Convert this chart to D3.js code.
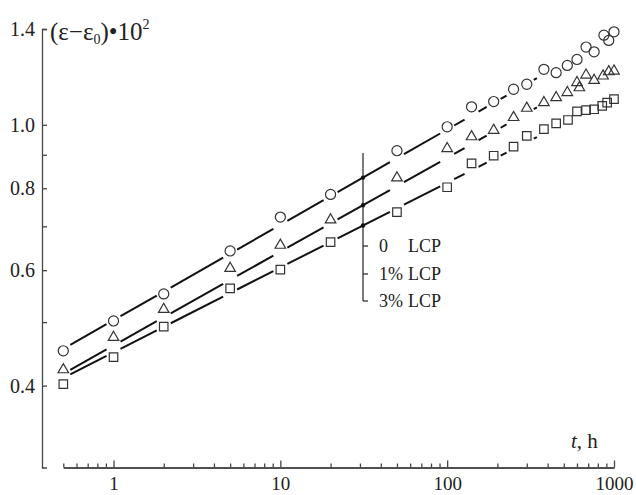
<!DOCTYPE html>
<html lang="en">
<head>
<meta charset="UTF-8">
<title>Creep strain vs time</title>
<script src="https://cdn.jsdelivr.net/npm/d3@7"></script>
<style>
  body { margin: 0; background: #fff; }
  text { font-family: "Liberation Serif", "Times New Roman", serif; fill: #222; }
</style>
</head>
<body>
<script>
// time, h
var hours0 = [0.5, 1, 2, 5, 10, 20, 50, 100, 140, 190, 250, 300, 380, 450, 525, 600, 680, 760, 870, 930, 1000];
var hours1 = [0.5, 1, 2, 5, 10, 20, 50, 100, 140, 190, 250, 300, 380, 450, 525, 600, 620, 680, 760, 860, 930, 1000];
var hours3 = [0.5, 1, 2, 5, 10, 20, 50, 100, 140, 190, 250, 300, 380, 450, 530, 600, 680, 760, 850, 910, 1000];
// (eps - eps0) * 10^2
var strain0 = [0.452, 0.502, 0.552, 0.642, 0.723, 0.783, 0.913, 0.993, 1.065, 1.085, 1.133, 1.153, 1.215, 1.201, 1.232, 1.258, 1.314, 1.292, 1.370, 1.345, 1.386];
var strain1 = [0.423, 0.474, 0.523, 0.604, 0.655, 0.716, 0.830, 0.920, 0.959, 0.981, 1.026, 1.060, 1.081, 1.100, 1.120, 1.160, 1.139, 1.191, 1.169, 1.187, 1.205, 1.208];
var strain3 = [0.402, 0.442, 0.492, 0.563, 0.601, 0.662, 0.736, 0.803, 0.873, 0.897, 0.926, 0.962, 0.985, 1.005, 1.017, 1.048, 1.053, 1.056, 1.069, 1.081, 1.094];
// fitted power-law lines, values at fitHours ends
var fitHours = [0.5, 1000];
var fit0 = [0.455, 1.375];
var fit1 = [0.417, 1.238];
var fit3 = [0.411, 1.099];

var legendNames = ["0", "1%", "3%"];
var xTickLabels = [1, 10, 100, 1000];
var yTickLabels = [0.4, 0.6, 0.8, 1.0, 1.4];
var yTicksMinor = [0.5, 0.7, 0.9];

var W = 636, H = 495;
var svg = d3.select("body").append("svg").attr("width", W).attr("height", H);

var x = d3.scaleLog().domain([0.5, 1000]).range([63.3, 614]);
var y = d3.scaleLog().domain([0.3, 1.4]).range([467.5, 29]);
var x0 = 42, yBase = 467.5;

// y axis, ticks pointing inside
var yAxis = svg.append("g").attr("transform", "translate(" + x0 + ",0)")
  .call(d3.axisLeft(y).tickValues(yTickLabels.concat(yTicksMinor))
    .tickSizeInner(-5).tickSizeOuter(-5).tickPadding(7)
    .tickFormat(function(d) { return yTickLabels.indexOf(d) >= 0 ? d3.format(".1f")(d) : ""; }));
yAxis.selectAll("text").style("font-size", "20px").attr("font-family", null);

// x axis: minor ticks then major ticks with labels
var minor = [];
[0.1, 1, 10, 100].forEach(function(dec) {
  for (var k = 2; k <= 9; k++) { var v = +(k * dec).toPrecision(3); if (v >= 0.5 && v <= 1000) minor.push(v); }
});
minor = minor.filter(function(v) { return xTickLabels.indexOf(v) < 0; });
svg.append("g").attr("transform", "translate(0," + yBase + ")")
  .call(d3.axisBottom(x).tickValues(minor).tickSizeInner(-4).tickSizeOuter(0).tickFormat(""));
var xAxis = svg.append("g").attr("transform", "translate(0," + yBase + ")")
  .call(d3.axisBottom(x).tickValues(xTickLabels).tickSizeInner(-7).tickSizeOuter(0)
    .tickFormat(d3.format("d")));
xAxis.selectAll("text").style("font-size", "19px").attr("y", 22.5).attr("dy", null);
svg.selectAll(".domain, .tick line").attr("stroke", "#444").attr("stroke-width", 1.3);

// axis titles
var yt = svg.append("text").attr("x", 50).attr("y", 40).style("font-size", "25px");
yt.append("tspan").text("(ε−ε");
yt.append("tspan").text("0").style("font-size", "14px").attr("dy", 4);
yt.append("tspan").text(")•10").attr("dy", -4);
yt.append("tspan").text("2").style("font-size", "14px").attr("dy", -11);

var xt = svg.append("text").attr("x", 571).attr("y", 448).style("font-size", "21px");
xt.append("tspan").text("t").style("font-style", "italic");
xt.append("tspan").text(", h");

// series
var series = [
  { t: hours0, v: strain0, fit: fit0, sym: d3.symbolCircle, size: 80 },
  { t: hours1, v: strain1, fit: fit1, sym: d3.symbolTriangle, size: 48 },
  { t: hours3, v: strain3, fit: fit3, sym: d3.symbolSquare, size: 72 }
];

function fitAt(fit, t) {
  var a = Math.log(fitHours[0]), b = Math.log(fitHours[1]);
  var f = (Math.log(t) - a) / (b - a);
  return Math.exp(Math.log(fit[0]) + f * (Math.log(fit[1]) - Math.log(fit[0])));
}

var gap = 7;
series.forEach(function(s) {
  // fitted line, broken around each marker
  var segs = [];
  for (var i = 0; i < s.t.length - 1; i++) {
    var a = x(s.t[i]) + gap, b = x(s.t[i + 1]) - gap;
    if (b - a > 0.5) segs.push([x.invert(a), x.invert(b)]);
  }
  svg.append("g").selectAll("line").data(segs).enter().append("line")
    .attr("x1", function(d) { return x(d[0]); })
    .attr("y1", function(d) { return y(fitAt(s.fit, d[0])); })
    .attr("x2", function(d) { return x(d[1]); })
    .attr("y2", function(d) { return y(fitAt(s.fit, d[1])); })
    .attr("stroke", "#111").attr("stroke-width", 2);

  svg.append("g").selectAll("path").data(d3.zip(s.t, s.v)).enter().append("path")
    .attr("d", d3.symbol().type(s.sym).size(s.size))
    .attr("transform", function(d) { return "translate(" + x(d[0]) + "," + y(d[1]) + ")"; })
    .attr("fill", "none").attr("stroke", "#333").attr("stroke-width", 1.2);
});

// legend pointer
var lx = 363, ly = [246, 274, 301];
svg.append("line").attr("x1", lx).attr("x2", lx).attr("y1", 153).attr("y2", ly[2])
  .attr("stroke", "#333").attr("stroke-width", 1.3);
svg.selectAll(".ltick").data(ly).enter().append("line")
  .attr("x1", lx).attr("x2", lx + 5).attr("y1", function(d) { return d; }).attr("y2", function(d) { return d; })
  .attr("stroke", "#333").attr("stroke-width", 1.3);
var tl = x.invert(lx);
svg.selectAll(".ldot").data(series).enter().append("circle")
  .attr("cx", lx).attr("cy", function(s) { return y(fitAt(s.fit, tl)); }).attr("r", 2.2).attr("fill", "#111");
legendNames.forEach(function(n, i) {
  svg.append("text").attr("x", 379).attr("y", ly[i] + 6).style("font-size", "18px").text(n);
  svg.append("text").attr("x", 408).attr("y", ly[i] + 6).style("font-size", "18px").text("LCP");
});
</script>
</body>
</html>
